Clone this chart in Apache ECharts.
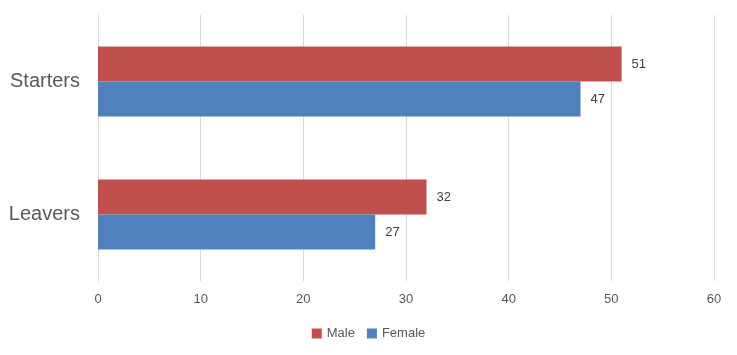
<!DOCTYPE html>
<html><head><meta charset="utf-8">
<script src="https://cdn.jsdelivr.net/npm/echarts@6/dist/echarts.min.js"></script>
<style>html,body{margin:0;padding:0;background:#fff}#c{width:737px;height:355px}</style>
</head><body><div id="c"></div>
<script>
const categories = ['Starters', 'Leavers'];
const male = [51, 32];
const female = [47, 27];
const seriesNames = ['Male', 'Female'];
const chart = echarts.init(document.getElementById('c'));
chart.setOption({
  animation: false,
  textStyle: {fontFamily: 'Liberation Sans, Arial, sans-serif'},
  grid: {left: 98, right: 23, top: 15, bottom: 74},
  legend: {
    bottom: 10, left: 'center', itemWidth: 10, itemHeight: 10, itemGap: 12,
    icon: 'rect', textStyle: {color: '#595959', fontSize: 13},
    data: seriesNames
  },
  xAxis: {
    type: 'value', min: 0, max: 60, interval: 10,
    axisLine: {show: false}, axisTick: {show: false},
    axisLabel: {color: '#595959', fontSize: 13, margin: 12},
    splitLine: {lineStyle: {color: '#d9d9d9'}}
  },
  yAxis: {
    type: 'category', data: categories, inverse: true,
    axisLine: {lineStyle: {color: '#d9d9d9'}}, axisTick: {show: false},
    axisLabel: {color: '#595959', fontSize: 20, margin: 18}
  },
  series: [
    {name: seriesNames[0], type: 'bar', data: male, barWidth: 35, barGap: '0%',
     itemStyle: {color: '#c0504d'},
     label: {show: true, position: 'right', distance: 10, color: '#404040', fontSize: 13}},
    {name: seriesNames[1], type: 'bar', data: female, barWidth: 35, barGap: '0%',
     itemStyle: {color: '#4f81bd'},
     label: {show: true, position: 'right', distance: 10, color: '#404040', fontSize: 13}}
  ]
});
</script></body></html>
